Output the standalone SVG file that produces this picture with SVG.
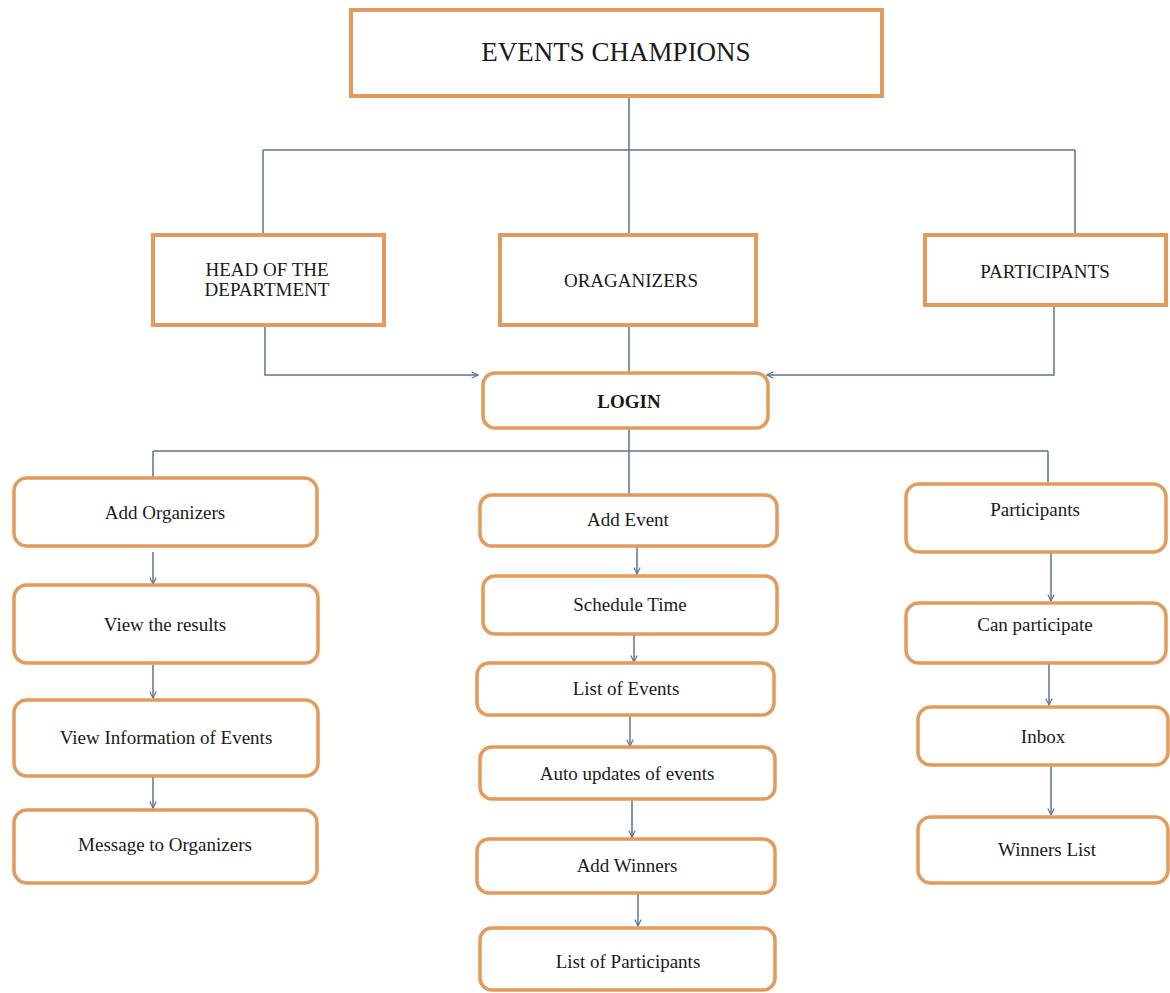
<svg xmlns="http://www.w3.org/2000/svg" width="1170" height="993" viewBox="0 0 1170 993">
<style>
.box{fill:#fff;stroke:#E39A5C;stroke-width:4}
.rbox{fill:#fff;stroke:#E39A5C;stroke-width:3.5}
.t{font-family:"Liberation Serif",serif;fill:#1a1a1a;text-anchor:middle}
.n{font-size:19px}
.c{fill:none;stroke:#5A7590;stroke-width:1.5}
</style>
<defs>
<marker id="ah" viewBox="0 0 10 10" refX="9" refY="5" markerWidth="8" markerHeight="8" markerUnits="userSpaceOnUse" orient="auto">
<path d="M1,1 L9,5 L1,9" fill="none" stroke="#5A7590" stroke-width="1.5"/>
</marker>
</defs>
<rect width="1170" height="993" fill="#fff"/>
<g id="connectors">
<path class="c" d="M629,96 V150 M263,150 H1075 M263,150 V235 M629,150 V235 M1075,150 V235"/>
<path class="c" d="M265,325 V375 H478" marker-end="url(#ah)"/>
<path class="c" d="M629,325 V373"/>
<path class="c" d="M1054,305 V375 H767" marker-end="url(#ah)"/>
<path class="c" d="M629,428 V495 M153,451 H1048 M153,451 V478 M1048,451 V484"/>
<path class="c" d="M153,552 V584" marker-end="url(#ah)"/>
<path class="c" d="M153,665 V698" marker-end="url(#ah)"/>
<path class="c" d="M153,777 V808" marker-end="url(#ah)"/>
<path class="c" d="M637,546 V574" marker-end="url(#ah)"/>
<path class="c" d="M634,634 V662" marker-end="url(#ah)"/>
<path class="c" d="M630,715 V746" marker-end="url(#ah)"/>
<path class="c" d="M632,799 V837" marker-end="url(#ah)"/>
<path class="c" d="M638,893 V926" marker-end="url(#ah)"/>
<path class="c" d="M1051,552 V601" marker-end="url(#ah)"/>
<path class="c" d="M1049,663 V705" marker-end="url(#ah)"/>
<path class="c" d="M1051,765 V815" marker-end="url(#ah)"/>
</g>
<g id="events-champions"><rect class="box" x="351" y="10" width="531" height="86"/><text class="t" x="616" y="61" font-size="27">EVENTS CHAMPIONS</text></g>
<g id="hod"><rect class="box" x="153" y="235" width="231" height="90"/><text class="t n" x="267" y="276">HEAD OF THE</text><text class="t n" x="267" y="296">DEPARTMENT</text></g>
<g id="organizers"><rect class="box" x="500" y="235" width="256" height="90"/><text class="t n" x="631" y="287">ORAGANIZERS</text></g>
<g id="participants-top"><rect class="box" x="925" y="235" width="241" height="70"/><text class="t n" x="1045" y="278">PARTICIPANTS</text></g>
<g id="login"><rect class="rbox" x="483" y="373" width="285" height="55" rx="12"/><text class="t n" x="629" y="408" font-weight="bold">LOGIN</text></g>
<g id="add-organizers"><rect class="rbox" x="14" y="478" width="303" height="68" rx="13"/><text class="t n" x="165" y="519">Add Organizers</text></g>
<g id="view-results"><rect class="rbox" x="14" y="585" width="304" height="78" rx="13"/><text class="t n" x="165" y="631">View the results</text></g>
<g id="view-info"><rect class="rbox" x="14" y="700" width="304" height="76" rx="13"/><text class="t n" x="166" y="744">View Information of Events</text></g>
<g id="message"><rect class="rbox" x="14" y="810" width="303" height="73" rx="13"/><text class="t n" x="165" y="851">Message to Organizers</text></g>
<g id="add-event"><rect class="rbox" x="480" y="495" width="297" height="51" rx="12"/><text class="t n" x="628" y="526">Add Event</text></g>
<g id="schedule"><rect class="rbox" x="483" y="576" width="294" height="58" rx="12"/><text class="t n" x="630" y="611">Schedule Time</text></g>
<g id="list-events"><rect class="rbox" x="477" y="663" width="297" height="52" rx="12"/><text class="t n" x="626" y="695">List of Events</text></g>
<g id="auto-updates"><rect class="rbox" x="480" y="747" width="295" height="52" rx="12"/><text class="t n" x="627" y="780">Auto updates of events</text></g>
<g id="add-winners"><rect class="rbox" x="477" y="839" width="298" height="54" rx="12"/><text class="t n" x="627" y="872">Add Winners</text></g>
<g id="list-participants"><rect class="rbox" x="480" y="928" width="295" height="62" rx="12"/><text class="t n" x="628" y="968">List of Participants</text></g>
<g id="participants"><rect class="rbox" x="906" y="484" width="260" height="68" rx="13"/><text class="t n" x="1035" y="516">Participants</text></g>
<g id="can-participate"><rect class="rbox" x="906" y="603" width="260" height="60" rx="13"/><text class="t n" x="1035" y="631">Can participate</text></g>
<g id="inbox"><rect class="rbox" x="918" y="707" width="250" height="58" rx="13"/><text class="t n" x="1043" y="743">Inbox</text></g>
<g id="winners-list"><rect class="rbox" x="918" y="817" width="250" height="66" rx="13"/><text class="t n" x="1047" y="856">Winners List</text></g>
</svg>
